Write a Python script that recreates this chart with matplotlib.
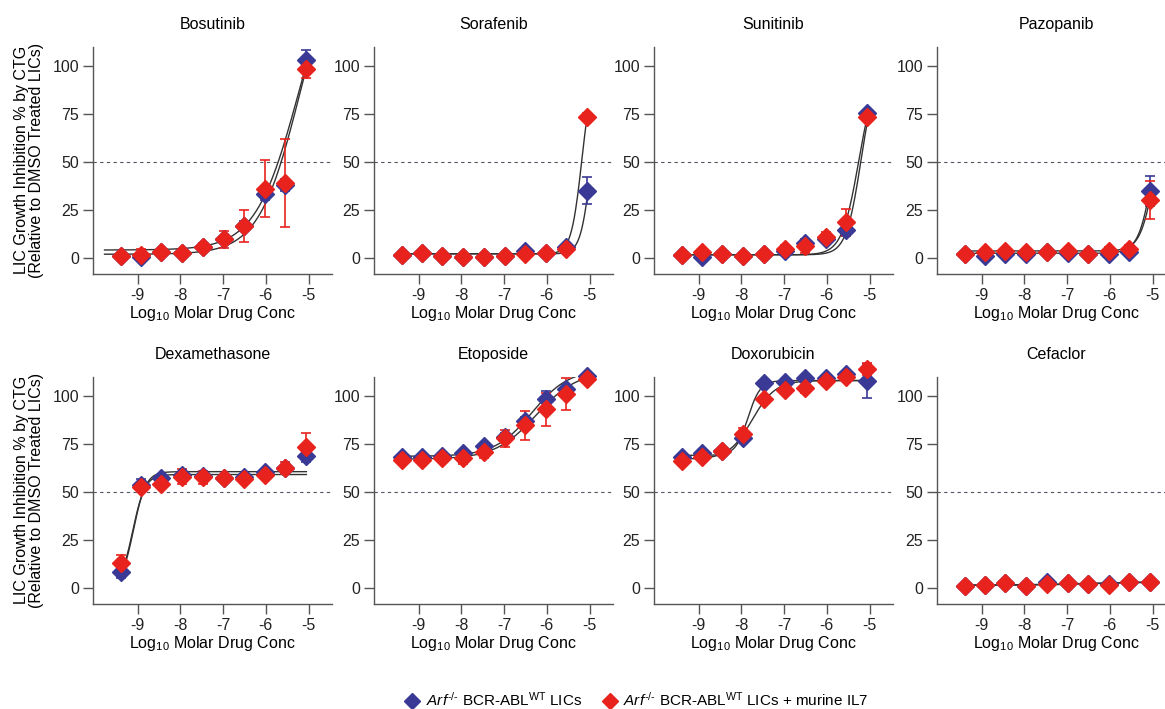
import numpy as np
import matplotlib.pyplot as plt

plt.rcParams['font.family'] = ['Liberation Sans', 'DejaVu Sans']
plt.rcParams['mathtext.fontset'] = 'custom'
plt.rcParams['mathtext.rm'] = 'Liberation Sans'
plt.rcParams['mathtext.it'] = 'Liberation Sans:italic'

# log10 molar concentrations (3-fold dilution series)
log_conc = [-9.40, -8.92, -8.45, -7.96, -7.48, -6.99, -6.51, -6.03, -5.55, -5.07]

drugs = ['Bosutinib', 'Sorafenib', 'Sunitinib', 'Pazopanib',
         'Dexamethasone', 'Etoposide', 'Doxorubicin', 'Cefaclor']

# mean % inhibition, Arf-/- BCR-ABL WT LICs
wt_mean = {
    'Bosutinib':     [1.0, 0.5, 2.8, 2.6, 5.7, 9.5, 16.5, 33.0, 38.0, 103.3],
    'Sorafenib':     [1.4, 2.2, 1.0, 0.2, 0.3, 1.0, 3.6, 2.3, 5.4, 35.0],
    'Sunitinib':     [1.4, 0.5, 1.7, 1.0, 1.9, 3.3, 7.5, 10.0, 14.4, 75.2],
    'Pazopanib':     [1.9, 0.9, 1.9, 1.9, 3.1, 2.3, 1.9, 1.9, 3.1, 34.7],
    'Dexamethasone': [8.3, 53.5, 57.3, 59.0, 58.3, 57.0, 57.8, 60.4, 62.5, 68.7],
    'Etoposide':     [68.2, 67.9, 68.8, 70.0, 73.8, 78.6, 87.0, 98.3, 103.8, 110.2],
    'Doxorubicin':   [68.2, 70.3, 71.4, 78.3, 106.8, 107.3, 109.4, 109.4, 111.6, 107.8],
    'Cefaclor':      [1.0, 1.4, 2.3, 1.0, 2.8, 2.3, 1.7, 1.9, 2.8, 3.1],
}
wt_err = {
    'Bosutinib':     [0.8, 1.0, 1.0, 1.0, 1.5, 2.0, 2.5, 3.0, 3.0, 5.0],
    'Sorafenib':     [0.8, 0.8, 0.8, 0.8, 0.8, 0.8, 1.0, 1.0, 1.5, 7.0],
    'Sunitinib':     [0.8, 0.8, 0.8, 0.8, 0.8, 1.0, 2.0, 2.0, 3.0, 1.5],
    'Pazopanib':     [0.8, 0.8, 0.8, 0.8, 0.8, 0.8, 0.8, 1.0, 1.0, 8.0],
    'Dexamethasone': [3.5, 3.0, 1.5, 1.5, 1.5, 1.5, 1.5, 1.5, 1.5, 3.0],
    'Etoposide':     [1.0, 1.0, 1.0, 1.0, 1.5, 2.0, 2.0, 4.0, 2.0, 1.5],
    'Doxorubicin':   [1.0, 1.0, 1.0, 1.5, 1.5, 1.0, 1.0, 1.0, 1.0, 9.0],
    'Cefaclor':      [0.5, 0.5, 0.5, 0.5, 0.8, 0.5, 0.5, 1.0, 0.5, 0.5],
}

# mean % inhibition, same LICs + murine IL7
il7_mean = {
    'Bosutinib':     [0.7, 1.5, 2.8, 2.6, 5.7, 9.5, 16.5, 36.0, 39.0, 98.6],
    'Sorafenib':     [1.4, 2.2, 1.0, 0.2, 0.3, 1.0, 1.9, 2.3, 4.5, 73.4],
    'Sunitinib':     [1.4, 2.8, 1.7, 1.0, 1.9, 4.5, 6.0, 10.6, 18.4, 73.4],
    'Pazopanib':     [1.9, 2.8, 3.6, 3.1, 3.1, 3.5, 1.9, 3.6, 4.3, 30.0],
    'Dexamethasone': [12.7, 52.6, 54.3, 57.8, 57.5, 57.0, 56.6, 59.0, 62.5, 73.4],
    'Etoposide':     [66.8, 66.5, 67.4, 67.7, 70.8, 77.8, 84.7, 93.0, 100.9, 109.0],
    'Doxorubicin':   [66.1, 68.2, 71.4, 79.9, 98.6, 103.0, 104.3, 107.8, 109.9, 113.9],
    'Cefaclor':      [1.0, 1.4, 2.3, 1.0, 1.9, 2.3, 1.7, 1.4, 2.8, 3.1],
}
il7_err = {
    'Bosutinib':     [0.8, 3.0, 1.0, 1.0, 2.0, 4.3, 8.5, 15.0, 23.0, 5.0],
    'Sorafenib':     [0.8, 1.0, 0.8, 0.8, 0.8, 1.5, 1.0, 1.0, 2.0, 2.0],
    'Sunitinib':     [0.8, 1.0, 0.8, 0.8, 0.8, 2.0, 3.5, 3.0, 7.0, 1.5],
    'Pazopanib':     [0.8, 0.8, 0.8, 0.8, 0.8, 1.0, 1.0, 2.0, 2.5, 10.0],
    'Dexamethasone': [4.5, 2.0, 2.0, 4.0, 3.5, 2.0, 2.0, 2.0, 3.0, 7.0],
    'Etoposide':     [1.0, 1.0, 1.5, 3.0, 3.0, 4.5, 7.5, 8.5, 8.5, 2.0],
    'Doxorubicin':   [1.0, 1.0, 1.0, 3.5, 1.5, 2.0, 3.0, 2.0, 2.0, 3.0],
    'Cefaclor':      [0.5, 0.5, 0.5, 0.5, 0.5, 0.5, 0.8, 1.0, 0.5, 0.5],
}

# four-parameter logistic fits: bottom, top, logEC50, hill
wt_fit = {
    'Bosutinib':     [1.8, 170, -5.20, 0.90],
    'Sorafenib':     [2.0, 100, -4.95, 3.5],
    'Sunitinib':     [1.5, 100, -5.20, 2.5],
    'Pazopanib':     [2.3, 100, -4.95, 2.5],
    'Dexamethasone': [0.0, 59.0, -9.12, 3.0],
    'Etoposide':     [68.5, 114, -6.35, 1.0],
    'Doxorubicin':   [69.0, 108, -7.85, 3.0],
    'Cefaclor':      [1.4, 3.2, -6.5, 0.6],
}
il7_fit = {
    'Bosutinib':     [4.0, 170, -5.22, 0.85],
    'Sorafenib':     [2.0, 100, -5.18, 3.5],
    'Sunitinib':     [1.5, 100, -5.25, 2.2],
    'Pazopanib':     [3.5, 100, -4.90, 2.5],
    'Dexamethasone': [0.0, 60.5, -9.10, 3.0],
    'Etoposide':     [67.0, 113, -6.25, 0.9],
    'Doxorubicin':   [67.0, 108, -7.75, 1.6],
    'Cefaclor':      [1.2, 3.0, -6.4, 0.6],
}
fit_start = {'Bosutinib': -9.78, 'Dexamethasone': -9.33}

blue = '#3a3a96'
red = '#e8231e'
axis_grey = '#555555'
fs = 11.5


def logistic(x, p):
    bottom, top, ec50, hill = p
    return bottom + (top - bottom) / (1 + 10 ** ((ec50 - x) * hill))


W, H = 1165, 709
fig = plt.figure(figsize=(W / 100, H / 100), dpi=100)

lefts = [93, 374, 654, 937]
tops = [46.7, 376.7]
ax_w, ax_h = 239, 227.3

for i, drug in enumerate(drugs):
    row, col = divmod(i, 4)
    ax = fig.add_axes([lefts[col] / W, 1 - (tops[row] + ax_h) / H, ax_w / W, ax_h / H])
    ax.set_xlim(-10.05, -4.45)
    ax.set_ylim(-8.5, 110)

    ax.axhline(50, color='#555566', lw=0.8, ls=(0, (3, 3)), zorder=1)

    xs = np.linspace(fit_start.get(drug, -9.42), -5.05, 300)
    for p in (wt_fit[drug], il7_fit[drug]):
        ax.plot(xs, logistic(xs, p), color='#333333', lw=1.0, zorder=2)

    for mean, err, c in ((wt_mean, wt_err, blue), (il7_mean, il7_err, red)):
        ax.errorbar(log_conc, mean[drug], yerr=err[drug], fmt='D', color=c,
                    ms=9, mec=c, ecolor=c, elinewidth=1.2, capsize=3.5,
                    capthick=1.2, clip_on=False, zorder=3)

    ax.set_title(drug, fontsize=fs, pad=13)
    ax.set_xticks([-9, -8, -7, -6, -5])
    ax.set_xticklabels(['-9', '-8', '-7', '-6', '-5'])
    ax.set_yticks([0, 25, 50, 75, 100])
    ax.tick_params(labelsize=fs, length=7, width=1, color=axis_grey, pad=3,
                   labelcolor='#222222')
    ax.set_xlabel('Log$_{10}$ Molar Drug Conc', fontsize=fs, labelpad=1)
    for s in ('top', 'right'):
        ax.spines[s].set_visible(False)
    for s in ('left', 'bottom'):
        ax.spines[s].set_color(axis_grey)
        ax.spines[s].set_linewidth(1)
    if col == 0:
        ax.set_ylabel('LIC Growth Inhibition % by CTG\n(Relative to DMSO Treated LICs)',
                      fontsize=fs, labelpad=6, linespacing=1.05)

handles = [
    plt.Line2D([], [], marker='D', ls='', color=blue, ms=8),
    plt.Line2D([], [], marker='D', ls='', color=red, ms=8),
]
labels = [
    r'$\mathit{Arf}^{\text{-/-}}$ BCR-ABL$^{\mathrm{WT}}$ LICs',
    r'$\mathit{Arf}^{\text{-/-}}$ BCR-ABL$^{\mathrm{WT}}$ LICs + murine IL7',
]
fig.legend(handles, labels, loc='center', bbox_to_anchor=(636 / W, 1 - 700 / H),
           ncol=2, frameon=False, fontsize=11, handletextpad=0.3,
           columnspacing=1.2, handlelength=1.2)

fig.savefig('out.png', dpi=100)
